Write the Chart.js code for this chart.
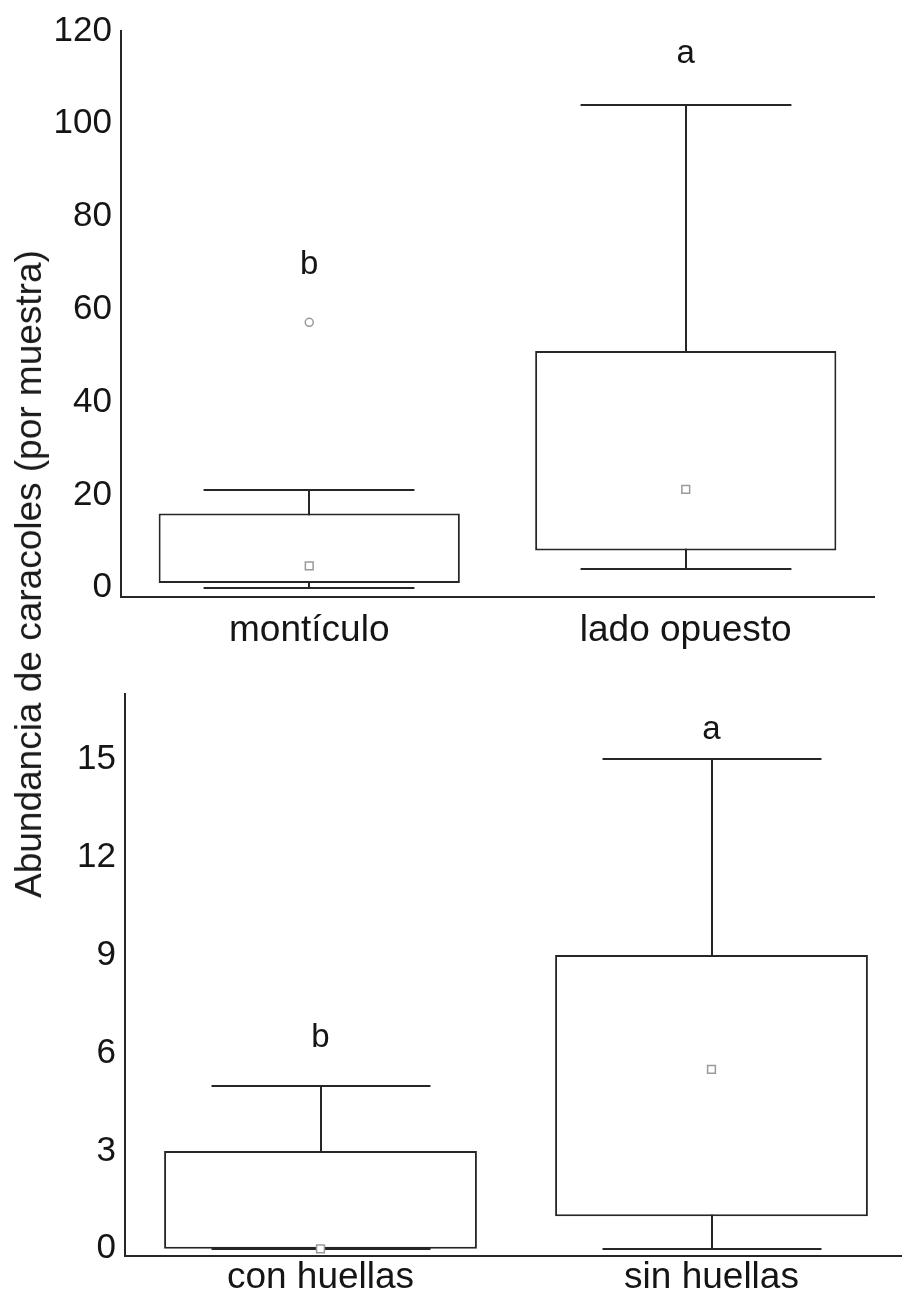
<!DOCTYPE html>
<html>
<head>
<meta charset="utf-8">
<script src="https://cdn.jsdelivr.net/npm/chart.js@4.4.1/dist/chart.umd.min.js"></script>
<style>
  html, body { margin: 0; padding: 0; background: #fff; overflow: hidden; }
  #wrap { position: relative; width: 902px; height: 1295px; overflow: hidden; }
  #topChart { position: absolute; left: 0; top: 0; }
  #bottomChart { position: absolute; left: 0; top: 650px; }
  #yTitle {
    position: absolute; left: 29px; top: 574px;
    transform: translate(-50%, -50%) rotate(-90deg);
    white-space: nowrap; color: #1a1a1a;
    font: 37px "Liberation Sans", Arial, sans-serif;
  }
</style>
</head>
<body>
<div id="wrap">
  <canvas id="topChart" width="902" height="650"></canvas>
  <canvas id="bottomChart" width="914" height="645"></canvas>
  <div id="yTitle">Abundancia de caracoles (por muestra)</div>
</div>
<script>
// upper panel: mound vs opposite side
const topCategories = ['montículo', 'lado opuesto'];
const topLow = [0, 4];
const topQ1 = [1, 8];
const topMedian = [4.7, 21.2];
const topQ3 = [16, 51];
const topHigh = [21, 104];
const topOutliers = [57.2, null];
const topLetters = ['b', 'a'];
const topLetterY = [69.5, 115];
const topTicks = [0, 20, 40, 60, 80, 100, 120];

// lower panel: with vs without tracks
const bottomCategories = ['con huellas', 'sin huellas'];
const bottomLow = [0, 0];
const bottomQ1 = [0, 1];
const bottomMedian = [0, 5.5];
const bottomQ3 = [3, 9];
const bottomHigh = [5, 15];
const bottomOutliers = [null, null];
const bottomLetters = ['b', 'a'];
const bottomLetterY = [6.45, 15.9];
const bottomTicks = [0, 3, 6, 9, 12, 15];

const FONT = '"Liberation Sans", Arial, sans-serif';
const INK = '#151515';
const LINE = '#262626';

// whisker stems and caps, drawn under the boxes
const whiskerPlugin = {
  id: 'whiskers',
  beforeDatasetsDraw(chart, args, opts) {
    const {ctx, scales: {x, y}} = chart;
    const step = x.getPixelForValue(1) - x.getPixelForValue(0);
    const half = step * opts.capWidth / 2;
    ctx.save();
    ctx.strokeStyle = LINE;
    ctx.lineWidth = 2;
    opts.low.forEach((lo, i) => {
      const cx = Math.round(x.getPixelForValue(i));
      const yLo = Math.round(y.getPixelForValue(lo));
      const yHi = Math.round(y.getPixelForValue(opts.high[i]));
      ctx.beginPath();
      ctx.moveTo(cx, yLo);
      ctx.lineTo(cx, yHi);
      ctx.moveTo(cx - half, yLo);
      ctx.lineTo(cx + half, yLo);
      ctx.moveTo(cx - half, yHi);
      ctx.lineTo(cx + half, yHi);
      ctx.stroke();
    });
    ctx.restore();
  }
};

// significance letters above each group
const letterPlugin = {
  id: 'letters',
  afterDatasetsDraw(chart, args, opts) {
    const {ctx, scales: {x, y}} = chart;
    ctx.save();
    ctx.font = '33px ' + FONT;
    ctx.fillStyle = INK;
    ctx.textAlign = 'center';
    ctx.textBaseline = 'middle';
    opts.text.forEach((t, i) => {
      ctx.fillText(t, x.getPixelForValue(i), y.getPixelForValue(opts.at[i]));
    });
    ctx.restore();
  }
};

function makeBoxChart(id, c) {
  return new Chart(document.getElementById(id), {
    type: 'bar',
    data: {
      labels: c.labels,
      datasets: [
        {
          type: 'line', data: c.median, showLine: false,
          pointStyle: 'rect', pointRadius: 5.5, borderWidth: 1.5,
          borderColor: '#9a9a9a', backgroundColor: '#fff', order: 0
        },
        {
          type: 'line', data: c.outliers, showLine: false,
          pointStyle: 'circle', pointRadius: 4, borderWidth: 1.5,
          borderColor: '#9a9a9a', backgroundColor: '#fff', order: 0
        },
        {
          data: c.q1.map((v, i) => [v, c.q3[i]]),
          backgroundColor: '#fff', borderColor: LINE, borderWidth: 2,
          borderSkipped: false, barPercentage: 0.8, categoryPercentage: 1,
          order: 1
        }
      ]
    },
    options: {
      responsive: false,
      animation: false,
      events: [],
      layout: { padding: { top: c.padTop, right: c.padRight, left: 0, bottom: 0 } },
      plugins: {
        legend: { display: false },
        tooltip: { enabled: false },
        whiskers: { low: c.low, high: c.high, capWidth: 0.56 },
        letters: { text: c.letters, at: c.letterY }
      },
      scales: {
        x: {
          grid: { display: false, drawTicks: false },
          border: { color: LINE, width: 2 },
          ticks: { color: INK, padding: c.xPad, font: { family: FONT, size: 37, lineHeight: 1 } },
          afterFit: s => { s.height = c.xHeight; }
        },
        y: {
          min: c.min, max: c.max,
          grid: { display: false, drawTicks: false },
          border: { color: LINE, width: 2 },
          ticks: { color: INK, padding: 9, font: { family: FONT, size: 35 } },
          afterFit: s => { s.width = c.yWidth; },
          afterBuildTicks: s => { s.ticks = c.ticks.map(v => ({ value: v })); }
        }
      }
    },
    plugins: [whiskerPlugin, letterPlugin]
  });
}

makeBoxChart('topChart', {
  labels: topCategories, low: topLow, q1: topQ1, median: topMedian, q3: topQ3,
  high: topHigh, outliers: topOutliers, letters: topLetters, letterY: topLetterY,
  ticks: topTicks, min: -2, max: 120,
  padTop: 31, padRight: 28, yWidth: 121, xHeight: 53, xPad: 15
});

makeBoxChart('bottomChart', {
  labels: bottomCategories, low: bottomLow, q1: bottomQ1, median: bottomMedian, q3: bottomQ3,
  high: bottomHigh, outliers: bottomOutliers, letters: bottomLetters, letterY: bottomLetterY,
  ticks: bottomTicks, min: -0.22, max: 17,
  padTop: 44, padRight: 0, yWidth: 125, xHeight: 39, xPad: 3
});
</script>
</body>
</html>
